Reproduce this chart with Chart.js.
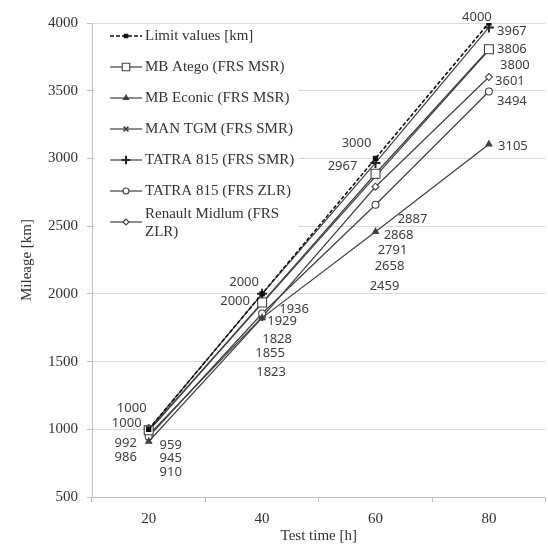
<!DOCTYPE html>
<html>
<head>
<meta charset="utf-8">
<script src="https://cdn.jsdelivr.net/npm/chart.js@4.4.0/dist/chart.umd.min.js"></script>
<style>
  html, body { margin: 0; padding: 0; background: #fff; overflow: hidden; }
  canvas { display: block; }
</style>
</head>
<body>
<canvas id="mileageChart" width="553" height="545"></canvas>
<script>
// test time categories [h]
const categories = ['20', '40', '60', '80'];

// mileage per vehicle [km]
const limitValues   = [1000, 2000, 3000, 4000];
const mbAtego       = [992, 1936, 2887, 3806];
const mbEconic      = [910, 1823, 2459, 3105];
const manTgm        = [986, 1929, 2868, 3800];
const tatraSmr      = [1000, 2000, 2967, 3967];
const tatraZlr      = [945, 1855, 2658, 3494];
const renaultMidlum = [959, 1828, 2791, 3601];

const yMin = 500, yMax = 4000, yStep = 500;

const LINE = '#404040';
const SERIF = '"Liberation Serif", "Times New Roman", serif';
const SANS = '"Noto Sans", "Open Sans", sans-serif';

// where each data label sits relative to its point [dx, dy]
const labelOffsets = [
    [[-17, -21], [-18, -12], [-19, -15], [-12, -6]], // limit
    [[-23, 13], [32, 7], [37, 46], [23, 0]],        // atego
    [[22, 31], [9, 54], [9, 55], [24, 2]],          // econic
    [[-23, 26], [20, 18], [23, 59], [26, 15]],      // man
    [[-22, -6], [-27, 7], [-33, 3], [23, 4]],       // tatra smr
    [[22, 22], [8, 40], [14, 62], [23, 10]],        // tatra zlr
    [[22, 10], [15, 22], [17, 64], [21, 4]]         // renault
];

function makeSet(label, data, style, radius, extra) {
    return Object.assign({
        label: label,
        data: data,
        borderColor: LINE,
        borderWidth: 1.2,
        pointStyle: style,
        pointRadius: radius,
        pointHoverRadius: radius,
        pointBorderColor: LINE,
        pointBackgroundColor: '#fff',
        pointBorderWidth: 1.1,
        tension: 0,
        fill: false
    }, extra || {});
}

const datasets = [
    makeSet('Limit values [km]', limitValues, 'rect', 3,
        { borderColor: '#111', borderDash: [4, 2], borderWidth: 1.6, pointBackgroundColor: '#111', pointBorderColor: '#111' }),
    makeSet('MB Atego (FRS MSR)', mbAtego, 'rect', 6.3),
    makeSet('MB Econic (FRS MSR)', mbEconic, 'triangle', 3.5, { pointBackgroundColor: LINE }),
    makeSet('MAN TGM (FRS SMR)', manTgm, 'crossRot', 4, { pointBorderWidth: 1.5 }),
    makeSet('TATRA 815 (FRS SMR)', tatraSmr, 'cross', 5, { pointBorderWidth: 2, pointBorderColor: '#222' }),
    makeSet('TATRA 815 (FRS ZLR)', tatraZlr, 'circle', 3.5),
    makeSet('Renault Midlum (FRS ZLR)', renaultMidlum, 'rectRot', 3.5)
];

const dataLabels = {
    id: 'dataLabels',
    afterDatasetsDraw(chart) {
        const ctx = chart.ctx;
        ctx.save();
        ctx.font = '13px ' + SANS;
        ctx.fillStyle = '#404040';
        ctx.textAlign = 'center';
        ctx.textBaseline = 'middle';
        chart.data.datasets.forEach((ds, i) => {
            const meta = chart.getDatasetMeta(i);
            meta.data.forEach((pt, j) => {
                const off = labelOffsets[i][j];
                ctx.fillText(String(ds.data[j]), pt.x + off[0], pt.y + off[1]);
            });
        });
        ctx.restore();
    }
};

const boxLegend = {
    id: 'boxLegend',
    afterDatasetsDraw(chart) {
        const ctx = chart.ctx;
        ctx.save();
        ctx.fillStyle = '#fff';
        ctx.fillRect(95, 25, 203, 224);
        ctx.font = '15px ' + SERIF;
        ctx.textBaseline = 'middle';
        ctx.textAlign = 'left';
        chart.data.datasets.forEach((ds, i) => {
            const y = 36 + i * 31;
            ctx.strokeStyle = ds.borderColor;
            ctx.lineWidth = ds.borderWidth;
            ctx.setLineDash(ds.borderDash || []);
            ctx.beginPath();
            ctx.moveTo(110, y);
            ctx.lineTo(142, y);
            ctx.stroke();
            ctx.setLineDash([]);
            ctx.fillStyle = ds.pointBackgroundColor;
            ctx.strokeStyle = ds.pointBorderColor;
            ctx.lineWidth = ds.pointBorderWidth;
            Chart.helpers.drawPoint(ctx, {
                pointStyle: ds.pointStyle,
                radius: ds.pointRadius * 0.85,
                rotation: 0,
                borderWidth: ds.pointBorderWidth
            }, 126, y);
            ctx.fillStyle = '#333';
            if (ds.label.startsWith('Renault')) {
                ctx.fillText('Renault Midlum (FRS', 145, y - 8);
                ctx.fillText('ZLR)', 145, y + 10);
            } else {
                ctx.fillText(ds.label, 145, y);
            }
        });
        ctx.restore();
    }
};

new Chart(document.getElementById('mileageChart'), {
    type: 'line',
    data: { labels: categories, datasets: datasets },
    options: {
        responsive: false,
        animation: false,
        layout: { padding: { top: 23, right: 0, bottom: 0, left: 0 } },
        plugins: {
            legend: { display: false },
            tooltip: { enabled: false }
        },
        scales: {
            x: {
                type: 'category',
                offset: true,
                afterFit: s => { s.height = 48; },
                grid: { drawOnChartArea: false, offset: true, tickLength: 5, color: '#bfbfbf' },
                border: { color: '#bfbfbf' },
                ticks: { font: { family: SERIF, size: 15 }, color: '#333', padding: 8 },
                title: { display: true, text: 'Test time [h]', font: { family: SERIF, size: 15 }, color: '#333', padding: { top: 0, bottom: 0 } }
            },
            y: {
                min: yMin,
                max: yMax,
                afterFit: s => { s.width = 92; },
                grid: { color: '#d9d9d9', tickLength: 5, tickColor: '#bfbfbf' },
                border: { color: '#bfbfbf' },
                ticks: { stepSize: yStep, font: { family: SERIF, size: 15 }, color: '#333', padding: 9,
                         callback: v => String(v) },
                title: { display: true, text: 'Mileage [km]', font: { family: SERIF, size: 15 }, color: '#333', padding: { top: 18, bottom: 0 } }
            }
        }
    },
    plugins: [dataLabels, boxLegend]
});
</script>
</body>
</html>
